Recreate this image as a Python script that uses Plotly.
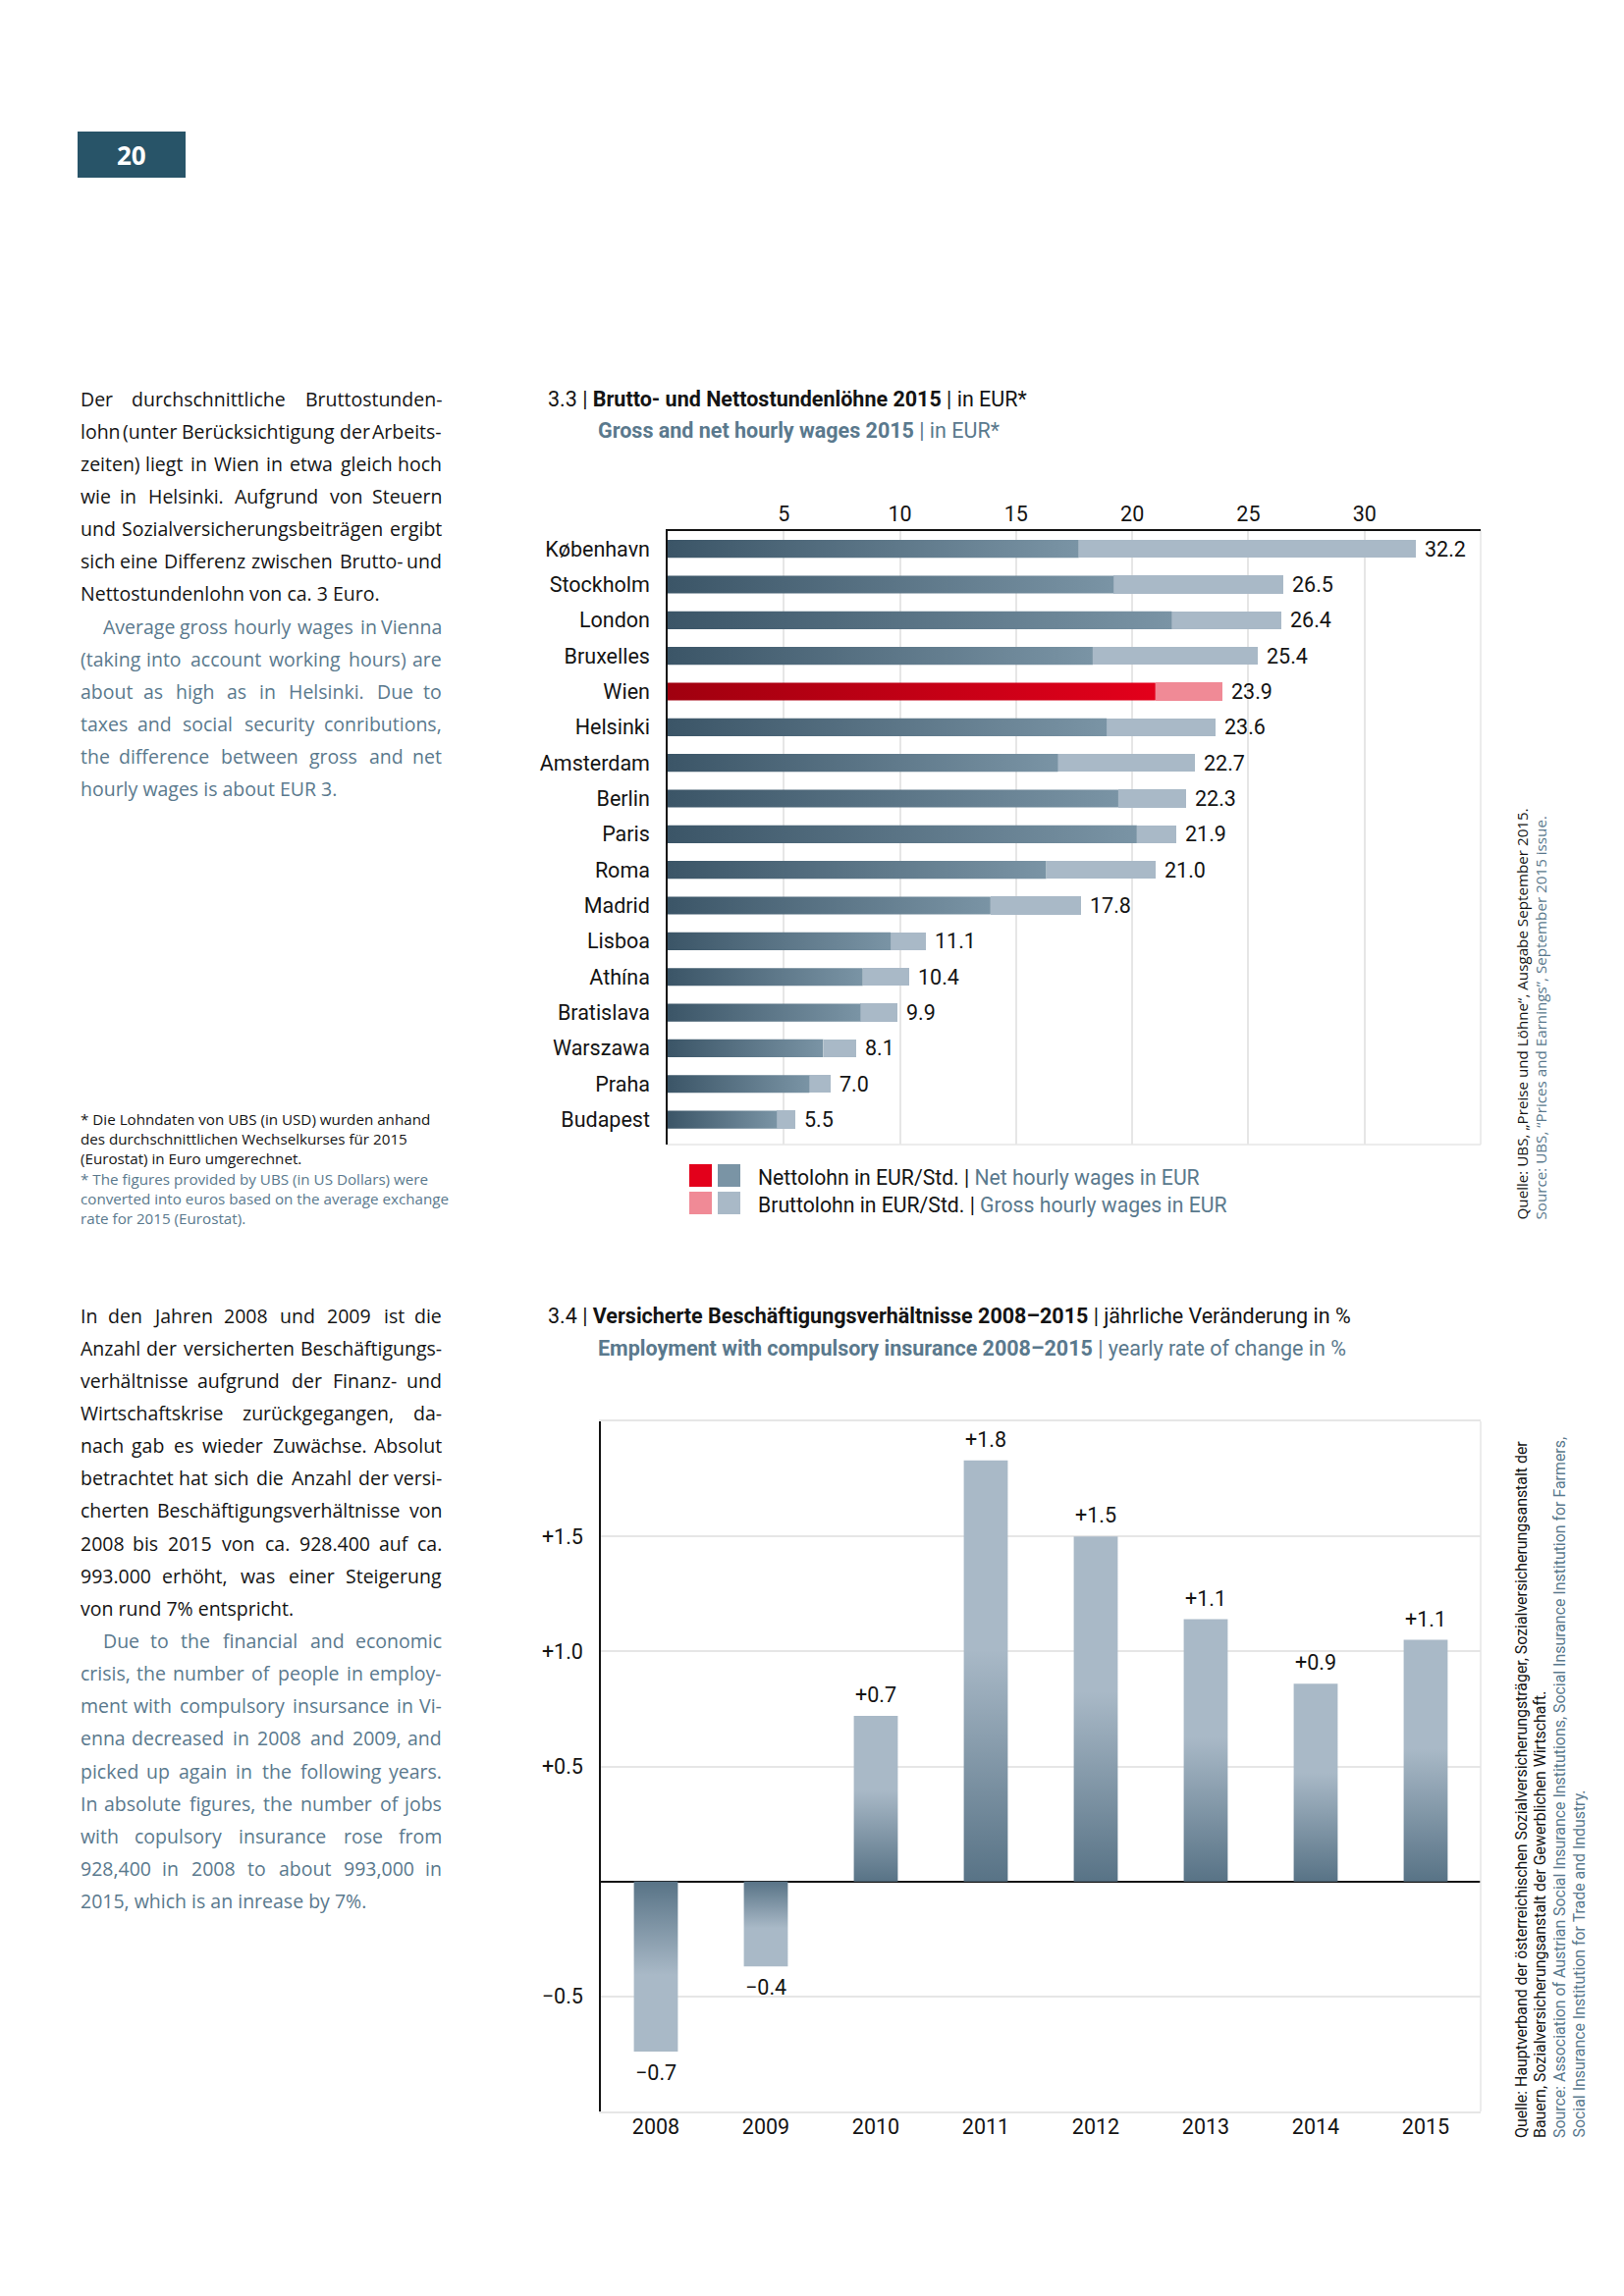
import plotly.graph_objects as go

W, H = 1654, 2339          # reference page size
OFF = 8                    # browser body margin
FW, FH = 1630, 2315        # figure size drawn inside the page

# ---------------- data: chart 3.3 ----------------
cities = ["København", "Stockholm", "London", "Bruxelles", "Wien", "Helsinki",
          "Amsterdam", "Berlin", "Paris", "Roma", "Madrid", "Lisboa", "Athína",
          "Bratislava", "Warszawa", "Praha", "Budapest"]
gross = [32.2, 26.5, 26.4, 25.4, 23.9, 23.6, 22.7, 22.3, 21.9, 21.0, 17.8,
         11.1, 10.4, 9.9, 8.1, 7.0, 5.5]
net = [17.7, 19.2, 21.7, 18.3, 21.0, 18.9, 16.8, 19.4, 20.2, 16.3, 13.9,
       9.6, 8.4, 8.3, 6.7, 6.1, 4.7]
highlight_city = "Wien"
x_ticks_33 = [5, 10, 15, 20, 25, 30]

# ---------------- data: chart 3.4 ----------------
years = ["2008", "2009", "2010", "2011", "2012", "2013", "2014", "2015"]
change = [-0.74, -0.37, 0.72, 1.83, 1.50, 1.14, 0.86, 1.05]
y_ticks_34 = [-0.5, 0.5, 1.0, 1.5]
y_ticklabels_34 = ["\u22120.5", "+0.5", "+1.0", "+1.5"]

# ---------------- styles ----------------
BLUE = "#5a798d"
BLACK = "#141414"
CHART_FONT = "Roboto, 'Noto Sans', sans-serif"
BODY_FONT = "'Open Sans', 'Noto Sans', sans-serif"
NET_DARK, NET_LIGHT = "#3b5567", "#7a94a5"
WIEN_DARK, WIEN_LIGHT = "#a0000f", "#e3001b"
GROSS_C, WIEN_GROSS_C = "#a9b9c7", "#f08a96"
COL_DARK, COL_LIGHT = "#587386", "#a9b9c7"
GRID = "#e6e6e6"
NUM = 21.5


def px(x):
    return (x - OFF) / FW


def py(y):
    return 1 - (y - OFF) / FH


fig = go.Figure()

# ---------------- chart 3.3 bars ----------------
half = 0.25
for i, (c, n) in enumerate(zip(cities, net)):
    dark, light = (WIEN_DARK, WIEN_LIGHT) if c == highlight_city else (NET_DARK, NET_LIGHT)
    fig.add_trace(go.Scatter(
        x=[0, n, n, 0, 0], y=[i - half, i - half, i + half, i + half, i - half],
        mode="lines", fill="toself", line=dict(width=0, color="rgba(0,0,0,0)"),
        fillgradient=dict(type="horizontal", colorscale=[[0, dark], [1, light]]),
        hoverinfo="skip", xaxis="x", yaxis="y"))

fig.add_trace(go.Bar(
    y=list(range(len(cities))), x=[g - n for g, n in zip(gross, net)], base=net,
    orientation="h", width=2 * half,
    marker=dict(color=[WIEN_GROSS_C if c == highlight_city else GROSS_C for c in cities],
                line=dict(width=0)),
    hoverinfo="skip", xaxis="x", yaxis="y"))

annotations = []
for i, g in enumerate(gross):
    annotations.append(dict(x=g, y=i, xref="x", yref="y", text=f"{g:.1f}",
                            showarrow=False, xanchor="left", yanchor="middle",
                            xshift=7, font=dict(family=CHART_FONT, size=NUM, color=BLACK)))

# ---------------- chart 3.4 bars ----------------
bw = 0.2
for i, v in enumerate(change):
    if v >= 0:
        cs = [[0, COL_DARK], [0.55, COL_LIGHT], [1, COL_LIGHT]]
    else:
        cs = [[0, COL_LIGHT], [0.45, COL_LIGHT], [1, COL_DARK]]
    fig.add_trace(go.Scatter(
        x=[i - bw, i + bw, i + bw, i - bw, i - bw], y=[0, 0, v, v, 0],
        mode="lines", fill="toself", line=dict(width=0, color="rgba(0,0,0,0)"),
        fillgradient=dict(type="vertical", colorscale=cs),
        hoverinfo="skip", xaxis="x2", yaxis="y2"))
    label = f"{v:+.1f}".replace("-", "\u2212")
    annotations.append(dict(x=i, y=v, xref="x2", yref="y2", text=label, showarrow=False,
                            xanchor="center", yanchor="bottom" if v >= 0 else "top",
                            yshift=7 if v >= 0 else -7,
                            font=dict(family=CHART_FONT, size=NUM, color=BLACK)))

# ---------------- text helpers ----------------
CW = {
    'a': .556, 'b': .613, 'c': .480, 'd': .613, 'e': .561, 'f': .336, 'g': .546, 'h': .613,
    'i': .258, 'j': .258, 'k': .521, 'l': .258, 'm': .930, 'n': .613, 'o': .602, 'p': .613,
    'q': .613, 'r': .408, 's': .477, 't': .353, 'u': .613, 'v': .500, 'w': .778, 'x': .519,
    'y': .500, 'z': .468, 'ä': .556, 'ö': .602, 'ü': .613,
    'A': .633, 'B': .647, 'C': .631, 'D': .730, 'E': .556, 'F': .517, 'G': .729, 'H': .738,
    'I': .279, 'J': .268, 'K': .614, 'L': .519, 'M': .904, 'N': .754, 'O': .779, 'P': .603,
    'Q': .779, 'R': .618, 'S': .549, 'T': .553, 'U': .729, 'V': .578, 'W': .861, 'X': .571,
    'Y': .554, 'Z': .556, '.': .266, ',': .250, '-': .322, '(': .296, ')': .296, '%': .823,
    ':': .266, '*': .551, '/': .372,
}


def tw(s, size):
    return sum(CW.get(ch, .572) for ch in s) * size


def text_ann(text, x, y, color, size, family=BODY_FONT, xanchor="left", yanchor="middle",
             angle=0):
    annotations.append(dict(x=px(x), y=py(y), xref="paper", yref="paper", text=text,
                            showarrow=False, xanchor=xanchor, yanchor=yanchor,
                            textangle=angle, font=dict(family=family, size=size, color=color)))


def paragraph(lines, y0, step, color, size=19.5, left=80, right=452, indent_first=0):
    for k, (line, justify) in enumerate(lines):
        y = y0 + k * step
        x0 = left + (indent_first if k == 0 else 0)
        words = line.split(" ")
        if not justify or len(words) < 2:
            text_ann(line, x0, y, color, size)
            continue
        ws = [tw(w, size) for w in words]
        gap = (right - x0 - sum(ws)) / (len(words) - 1)
        pos = x0
        for j, (w, wd) in enumerate(zip(words, ws)):
            if j == 0:
                text_ann(w, x0, y, color, size, xanchor="left")
            elif j == len(words) - 1:
                text_ann(w, right, y, color, size, xanchor="right")
            else:
                text_ann(w, pos + wd / 2, y, color, size, xanchor="center")
            pos += wd + gap


STEP = 33.15
p1_de = [("Der durchschnittliche Bruttostunden-", True),
         ("lohn (unter Berücksichtigung der Arbeits-", True),
         ("zeiten) liegt in Wien in etwa gleich hoch", True),
         ("wie in Helsinki. Aufgrund von Steuern", True),
         ("und Sozialversicherungsbeiträgen ergibt", True),
         ("sich eine Differenz zwischen Brutto- und", True),
         ("Nettostundenlohn von ca. 3 Euro.", False)]
p1_en = [("Average gross hourly wages in Vienna", True),
         ("(taking into account working hours) are", True),
         ("about as high as in Helsinki. Due to", True),
         ("taxes and social security conributions,", True),
         ("the difference between gross and net", True),
         ("hourly wages is about EUR 3.", False)]
paragraph(p1_de, 406, STEP, BLACK)
paragraph(p1_en, 406 + 7 * STEP, STEP, BLUE, indent_first=23)

p2_de = [("In den Jahren 2008 und 2009 ist die", True),
         ("Anzahl der versicherten Beschäftigungs-", True),
         ("verhältnisse aufgrund der Finanz- und", True),
         ("Wirtschaftskrise zurückgegangen, da-", True),
         ("nach gab es wieder Zuwächse. Absolut", True),
         ("betrachtet hat sich die Anzahl der versi-", True),
         ("cherten Beschäftigungsverhältnisse von", True),
         ("2008 bis 2015 von ca. 928.400 auf ca.", True),
         ("993.000 erhöht, was einer Steigerung", True),
         ("von rund 7% entspricht.", False)]
p2_en = [("Due to the financial and economic", True),
         ("crisis, the number of people in employ-", True),
         ("ment with compulsory insursance in Vi-", True),
         ("enna decreased in 2008 and 2009, and", True),
         ("picked up again in the following years.", True),
         ("In absolute figures, the number of jobs", True),
         ("with copulsory insurance rose from", True),
         ("928,400 in 2008 to about 993,000 in", True),
         ("2015, which is an inrease by 7%.", False)]
paragraph(p2_de, 1340, STEP, BLACK)
paragraph(p2_en, 1340 + 10 * STEP, STEP, BLUE, indent_first=23)

# footnote
foot = [("* Die Lohndaten von UBS (in USD) wurden anhand", BLACK),
        ("des durchschnittlichen Wechselkurses für 2015", BLACK),
        ("(Eurostat) in Euro umgerechnet.", BLACK),
        ("* The figures provided by UBS (in US Dollars) were", BLUE),
        ("converted into euros based on the average exchange", BLUE),
        ("rate for 2015 (Eurostat).", BLUE)]
for k, (t, col) in enumerate(foot):
    text_ann(t, 80, 1140 + k * 20.2, col, 15.2)

# page number
text_ann("<b>20</b>", 134, 158, "white", 26, xanchor="center")

# chart titles
TS = 21.5
text_ann("3.3 | <b>Brutto- und Nettostundenlöhne 2015</b> | in EUR*", 556, 406, BLACK, TS,
         family=CHART_FONT)
text_ann("<b>Gross and net hourly wages 2015</b> | in EUR*", 607, 439, BLUE, TS,
         family=CHART_FONT)
text_ann("3.4 | <b>Versicherte Beschäftigungsverhältnisse 2008–2015</b> | jährliche Veränderung in %",
         556, 1340, BLACK, TS, family=CHART_FONT)
text_ann("<b>Employment with compulsory insurance 2008–2015</b> | yearly rate of change in %",
         607, 1373, BLUE, TS, family=CHART_FONT)

# legend texts
text_ann(f"Nettolohn in EUR/Std. | <span style='color:{BLUE}'>Net hourly wages in EUR</span>",
         770, 1199, BLACK, 21.2, family=CHART_FONT)
text_ann(f"Bruttolohn in EUR/Std. | <span style='color:{BLUE}'>Gross hourly wages in EUR</span>",
         770, 1227, BLACK, 21.2, family=CHART_FONT)

# vertical sources
text_ann("Quelle: UBS, „Preise und Löhne“, Ausgabe September 2015.", 1549, 1245, BLACK, 15.2,
         xanchor="center", yanchor="bottom", angle=-90)
text_ann("Source: UBS, “Prices and Earnings”, September 2015 issue.", 1568, 1245, BLUE, 15.2,
         xanchor="center", yanchor="bottom", angle=-90)
src34 = [("Quelle: Hauptverband der österreichischen Sozialversicherungsträger, Sozialversicherungsanstalt der", BLACK),
         ("Bauern, Sozialversicherungsanstalt der Gewerblichen Wirtschaft.", BLACK),
         ("Source: Association of Austrian Social Insurance Institutions, Social Insurance Institution for Farmers,", BLUE),
         ("Social Insurance Institution for Trade and Industry.", BLUE)]
for k, (t, col) in enumerate(src34):
    text_ann(t, 1549 + k * 19.5, 2180, col, 15.9, family=CHART_FONT,
             xanchor="center", yanchor="bottom", angle=-90)

# ---------------- shapes ----------------
shapes = [
    dict(type="rect", xref="paper", yref="paper", x0=px(79), x1=px(189), y0=py(181), y1=py(134),
         fillcolor="#285468", line=dict(width=0), layer="below"),
    dict(type="line", xref="x domain", yref="y domain", x0=1, x1=1, y0=0, y1=1,
         line=dict(color=GRID, width=1.5)),
    dict(type="line", xref="x domain", yref="y domain", x0=0, x1=1, y0=0, y1=0,
         line=dict(color=GRID, width=1.5)),
    dict(type="line", xref="x2 domain", yref="y2 domain", x0=1, x1=1, y0=0, y1=1,
         line=dict(color=GRID, width=1.5)),
]
for (x0, y0, col) in [(702, 1186, WIEN_LIGHT), (731, 1186, NET_LIGHT),
                      (702, 1214, WIEN_GROSS_C), (731, 1214, GROSS_C)]:
    shapes.append(dict(type="rect", xref="paper", yref="paper", x0=px(x0), x1=px(x0 + 23),
                       y0=py(y0 + 23), y1=py(y0), fillcolor=col, line=dict(width=0)))

fig.update_layout(
    width=FW, height=FH, margin=dict(l=0, r=0, t=0, b=0),
    paper_bgcolor="white", plot_bgcolor="white", showlegend=False,
    template="none", font=dict(family=CHART_FONT, color=BLACK),
    bargap=0, shapes=shapes, annotations=annotations,
    xaxis=dict(domain=[px(680), px(1508)], anchor="y", range=[0, 35], side="top",
               tickvals=x_ticks_33, showgrid=True, gridcolor=GRID, gridwidth=1.5,
               showline=True, linecolor=BLACK, linewidth=1.5, ticks="", zeroline=False,
               tickfont=dict(size=NUM, family=CHART_FONT, color=BLACK), ticklabelstandoff=0,
               fixedrange=True),
    yaxis=dict(domain=[py(1166), py(541)], anchor="x", range=[16.7, -0.5],
               tickvals=list(range(len(cities))), ticktext=cities, showgrid=False,
               showline=True, linecolor=BLACK, linewidth=1.5, ticks="", zeroline=False,
               tickfont=dict(size=NUM, family=CHART_FONT, color=BLACK), ticklabelstandoff=12,
               fixedrange=True),
    xaxis2=dict(domain=[px(612), px(1508)], anchor="y2", range=[-0.5, 7.5],
                tickvals=list(range(len(years))), ticktext=years, showgrid=False,
                showline=True, mirror=True, linecolor=GRID, linewidth=1.5, ticks="",
                zeroline=False, tickfont=dict(size=NUM, family=CHART_FONT, color=BLACK),
                ticklabelstandoff=-5, fixedrange=True),
    yaxis2=dict(domain=[py(2151), py(1448)], anchor="x2", range=[-1.0, 2.0],
                tickvals=y_ticks_34, ticktext=y_ticklabels_34, showgrid=True,
                gridcolor=GRID, gridwidth=1.5, zeroline=True, zerolinecolor=BLACK,
                zerolinewidth=1.5, showline=True, linecolor=BLACK, linewidth=1.5,
                ticks="", tickfont=dict(size=NUM, family=CHART_FONT, color=BLACK),
                ticklabelstandoff=12, fixedrange=True),
)

fig.write_html("out.html")
